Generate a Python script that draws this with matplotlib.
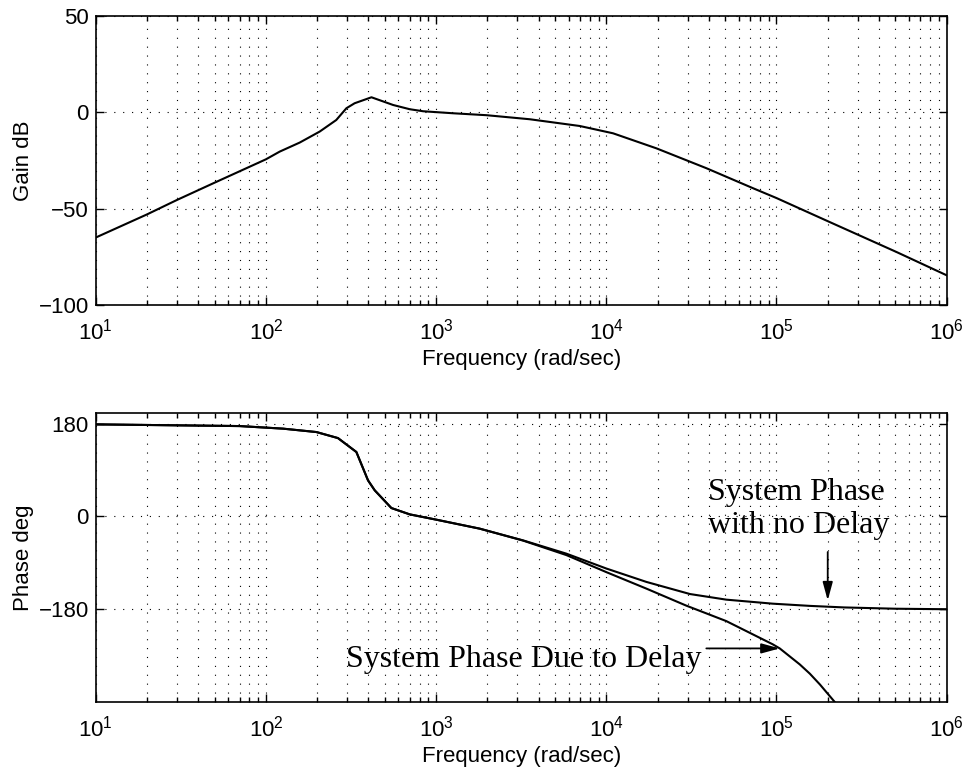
import numpy as np
import matplotlib
matplotlib.use("Agg")
import matplotlib.pyplot as plt
from matplotlib.ticker import LogLocator, FixedLocator, NullFormatter

plt.rcParams["font.family"] = ["Liberation Sans", "DejaVu Sans"]
plt.rcParams["mathtext.default"] = "regular"

# Bode data, open loop
freq_gain = [10, 20, 30, 50, 100, 120.5, 158, 207, 259, 297, 332, 417, 559,
             700, 838, 1259, 1977, 3548, 6980, 1.096e4, 1.97e4, 3.87e4,
             7.28e4, 1e5, 2e5, 5.07e5, 1e6]
gain_db = [-65, -53, -45.5, -36.5, -24.4, -20.4, -15.7, -10, -4, 2.1, 4.7,
           7.8, 3.8, 1.6, 0.55, -0.5, -1.5, -3.6, -7.1, -10.9, -18.7, -29,
           -39.4, -44.5, -56.5, -72.5, -84.6]

freq_phase = [10, 70, 126, 198, 265, 340, 398, 436, 546, 700, 1000, 1804,
              3240, 5830, 1e4, 1.72e4, 3.1e4, 5.07e4, 9.5e4, 1.57e5, 2.5e5,
              5e5, 1e6]
phase_no_delay = [178.6, 175.3, 170.3, 163.7, 152, 125, 70, 50.6, 16.3, 4,
                  -6.2, -23.7, -46.4, -72.2, -101, -127, -150.5, -161.4,
                  -169.2, -173.5, -176.5, -179, -180]

freq_delay = [10, 70, 126, 198, 265, 340, 398, 436, 546, 700, 1000, 1804,
              3240, 5830, 1e4, 1.72e4, 2.95e4, 5.07e4, 9.5e4, 1.045e5,
              1.37e5, 1.57e5, 1.8e5, 2.2e5]
phase_delay = [178.6, 175.3, 170.3, 163.7, 152, 125, 70, 50.6, 16.3, 4,
               -6.2, -23.7, -46.8, -75, -108, -140, -173, -203, -248, -256,
               -287, -305, -326, -360]

gain_ticks = [-100, -50, 0, 50]
phase_ticks = [-180, 0, 180]

fig = plt.figure(figsize=(9.66, 7.68), dpi=100)
ax_gain = fig.add_axes([0.0991, 0.6029, 0.8809, 0.3763])
ax_phase = fig.add_axes([0.0991, 0.0859, 0.8809, 0.3759])

dots = (0, (1, 7))


def style_axes(ax, yticks):
    ax.set_xscale("log")
    ax.set_xlim(10, 1e6)
    ax.xaxis.set_major_locator(LogLocator(base=10, numticks=10))
    ax.xaxis.set_minor_locator(LogLocator(base=10, subs=np.arange(2, 10), numticks=10))
    ax.xaxis.set_minor_formatter(NullFormatter())
    ax.yaxis.set_major_locator(FixedLocator(yticks))
    ax.tick_params(which="both", direction="in", top=True, right=True,
                   labelsize=16, width=1.0)
    ax.tick_params(which="major", length=6)
    ax.tick_params(which="minor", length=3.5)
    ax.tick_params(axis="x", which="major", pad=10)
    ax.tick_params(axis="y", which="major", pad=5)
    ax.grid(True, which="major", color="black", linestyle=dots, linewidth=0.8)
    ax.grid(True, which="minor", axis="x", color="black", linestyle=dots,
            linewidth=0.8)
    for sp in ax.spines.values():
        sp.set_linewidth(1.2)
    ax.set_xlabel("Frequency (rad/sec)", fontsize=16, labelpad=3)


ax_gain.plot(freq_gain, gain_db, color="black", linewidth=1.5)
ax_gain.set_ylim(-100, 50)
style_axes(ax_gain, gain_ticks)
ax_gain.set_ylabel("Gain dB", fontsize=16, labelpad=3)

ax_phase.plot(freq_phase, phase_no_delay, color="black", linewidth=1.5)
ax_phase.plot(freq_delay, phase_delay, color="black", linewidth=1.5)
ax_phase.set_ylim(-360, 200)
style_axes(ax_phase, phase_ticks)
ax_phase.set_ylabel("Phase deg", fontsize=16, labelpad=3)

serif = ["Liberation Serif", "DejaVu Serif"]
arrow = dict(arrowstyle="-|>,head_length=1.1,head_width=0.3", color="black",
             lw=1.3, shrinkA=0, shrinkB=0)
# multi-line text: baseline refers to the last line
ax_phase.text(3.94e4, -33, "System Phase\nwith no Delay", family=serif,
              fontsize=23, ha="left", va="baseline", linespacing=1.2)
ax_phase.annotate("", xy=(2e5, -163), xytext=(2e5, -69), arrowprops=arrow)
ax_phase.text(297, -292, "System Phase Due to Delay", family=serif,
              fontsize=23, ha="left", va="baseline")
ax_phase.annotate("", xy=(1.045e5, -256), xytext=(3.87e4, -256),
                  arrowprops=arrow)

fig.savefig("out.png", dpi=100)
